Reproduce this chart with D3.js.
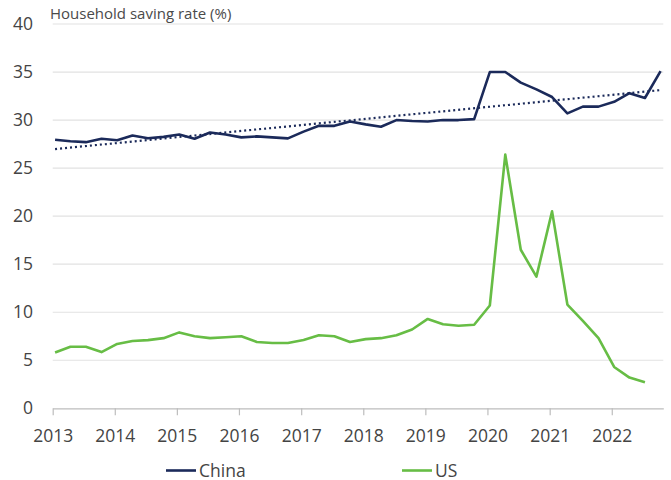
<!doctype html>
<html lang="en">
<head>
    <meta charset="utf-8">
    <title>Household saving rate</title>
    <script src="https://d3js.org/d3.v7.min.js"></script>
    <style>
        body { margin: 0; background: #fff; font-family: "Open Sans", sans-serif; }
    </style>
</head>
<body>
    <div id="chart"></div>
    <script>
        // quarterly observations, 2013Q1 onwards
        var quarters = [];
        for (var yr = 2013; yr <= 2022; yr++) {
            for (var q = 0; q < 4; q++) quarters.push(new Date(yr, q * 3, 15));
        }

        var china = [27.95, 27.8, 27.7, 28.05, 27.9, 28.4, 28.1, 28.25,
                     28.5, 28.05, 28.7, 28.5, 28.2, 28.3, 28.2, 28.1,
                     28.8, 29.4, 29.4, 29.85, 29.55, 29.3, 30.0, 29.9,
                     29.85, 30.0, 30.0, 30.1, 35.0, 35.0, 33.9, 33.2,
                     32.4, 30.7, 31.4, 31.4, 31.9, 32.8, 32.3, 35.1];

        var us = [5.8, 6.4, 6.4, 5.85, 6.7, 7.0, 7.1, 7.3,
                  7.9, 7.5, 7.3, 7.4, 7.5, 6.9, 6.8, 6.8,
                  7.1, 7.6, 7.5, 6.9, 7.2, 7.3, 7.6, 8.2,
                  9.3, 8.75, 8.6, 8.7, 10.7, 26.4, 16.5, 13.7,
                  20.5, 10.8, 9.1, 7.3, 4.3, 3.2, 2.7];

        var yTicks = [0, 5, 10, 15, 20, 25, 30, 35, 40];
        var xYears = [2013, 2014, 2015, 2016, 2017, 2018, 2019, 2020, 2021, 2022];

        var width = 671, height = 480;
        var mLeft = 52.7, mRight = 663.3, mTop = 24, mBottom = 408.3;

        var x = d3.scaleTime()
            .domain([new Date(2013, 0, 1), new Date(2022, 9, 31)])
            .range([mLeft, mRight]);
        var y = d3.scaleLinear().domain([0, 40]).range([mBottom, mTop]);

        var svg = d3.select("#chart").append("svg")
            .attr("width", width)
            .attr("height", height);

        // gridlines
        svg.append("g").selectAll("line")
            .data(yTicks.filter(function (d) { return d > 0; }))
            .enter().append("line")
            .attr("x1", mLeft).attr("x2", mRight)
            .attr("y1", function (d) { return y(d); })
            .attr("y2", function (d) { return y(d); })
            .attr("stroke", "#e2e2e2")
            .attr("stroke-width", 1.2);

        // y axis labels
        svg.append("g").selectAll("text")
            .data(yTicks)
            .enter().append("text")
            .attr("x", 33)
            .attr("y", function (d) { return y(d); })
            .attr("dy", "0.35em")
            .attr("text-anchor", "end")
            .attr("font-size", 17.5)
            .attr("fill", "#444")
            .text(function (d) { return d; });

        // x axis
        var xAxis = d3.axisBottom(x)
            .tickValues(xYears.map(function (d) { return new Date(d, 0, 1); }))
            .tickFormat(d3.timeFormat("%Y"))
            .tickSize(7)
            .tickSizeOuter(0)
            .tickPadding(14);

        var gx = svg.append("g")
            .attr("transform", "translate(0," + mBottom + ")")
            .call(xAxis);
        gx.select(".domain").attr("stroke", "#bdbdbd").attr("stroke-width", 1.2);
        gx.selectAll(".tick line").attr("stroke", "#bdbdbd").attr("stroke-width", 1.2);
        gx.selectAll(".tick text")
            .attr("font-family", "Open Sans, sans-serif")
            .attr("font-size", 17.5)
            .attr("fill", "#444");

        // title
        svg.append("text")
            .attr("x", 50).attr("y", 19)
            .attr("font-size", 15)
            .attr("fill", "#4a4a4a")
            .text("Household saving rate (%)");

        // linear trend for China (least squares)
        var xs = china.map(function (d, i) { return +quarters[i]; });
        var mx = d3.mean(xs), my = d3.mean(china);
        var num = d3.sum(xs, function (v, i) { return (v - mx) * (china[i] - my); });
        var den = d3.sum(xs, function (v) { return (v - mx) * (v - mx); });
        var slope = num / den, icpt = my - slope * mx;
        var trend = [xs[0], xs[xs.length - 1]].map(function (v) { return [v, icpt + slope * v]; });

        var line = d3.line()
            .x(function (d, i) { return x(quarters[i]); })
            .y(function (d) { return y(d); });

        svg.append("path")
            .datum(trend)
            .attr("fill", "none")
            .attr("stroke", "#1b2a5a")
            .attr("stroke-width", 2.2)
            .attr("stroke-dasharray", "2,3")
            .attr("d", d3.line()
                .x(function (d) { return x(new Date(d[0])); })
                .y(function (d) { return y(d[1]); }));

        svg.append("path")
            .datum(china)
            .attr("fill", "none")
            .attr("stroke", "#1b2a5a")
            .attr("stroke-width", 2.6)
            .attr("stroke-linejoin", "round")
            .attr("d", line);

        svg.append("path")
            .datum(us)
            .attr("fill", "none")
            .attr("stroke", "#67bd45")
            .attr("stroke-width", 2.6)
            .attr("stroke-linejoin", "round")
            .attr("d", line);

        // legend
        var legend = [{ name: "China", color: "#1b2a5a", x: 166 }, { name: "US", color: "#67bd45", x: 402 }];
        var lg = svg.append("g").selectAll("g")
            .data(legend)
            .enter().append("g")
            .attr("transform", function (d) { return "translate(" + d.x + ",470.5)"; });
        lg.append("line")
            .attr("x1", 0).attr("x2", 30)
            .attr("stroke", function (d) { return d.color; })
            .attr("stroke-width", 2.6);
        lg.append("text")
            .attr("x", 33).attr("y", 6)
            .attr("font-size", 17.5)
            .attr("fill", "#444")
            .text(function (d) { return d.name; });
    </script>
</body>
</html>
